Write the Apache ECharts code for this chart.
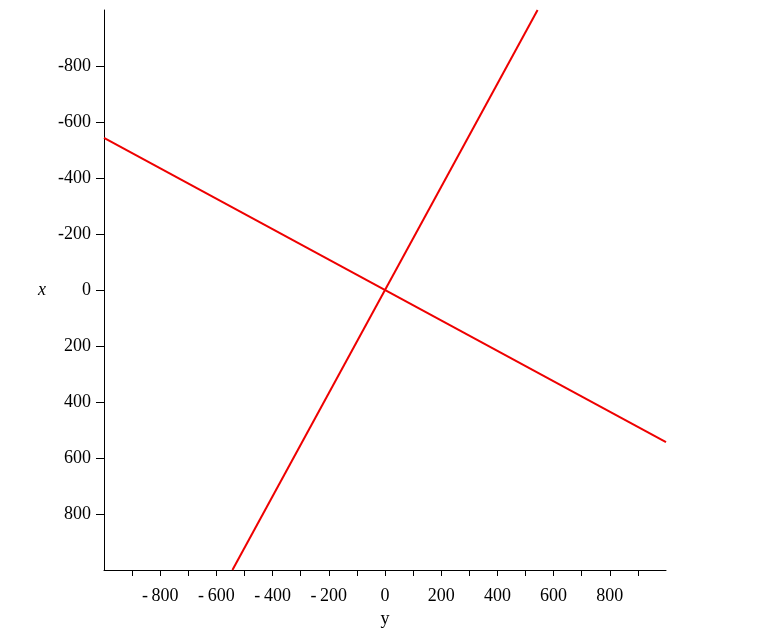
<!DOCTYPE html>
<html>
<head>
<meta charset="utf-8">
<script src="https://cdn.jsdelivr.net/npm/echarts@6/dist/echarts.min.js"></script>
<style>
html,body{margin:0;padding:0;background:#fff;}
#chart{width:772px;height:633px;}
</style>
</head>
<body>
<div id="chart"></div>
<script>
// Line 1 (horizontal value y, vertical value x)
const line1Y = [-1000, 1000];
const line1X = [-543, 543];
// Line 2
const line2Y = [-543, 543];
const line2X = [1000, -1000];
// Tick labels
const hLabelValues = [-800, -600, -400, -200, 0, 200, 400, 600, 800];
const hTickValues = [-900, -800, -700, -600, -500, -400, -300, -200, -100, 0, 100, 200, 300, 400, 500, 600, 700, 800, 900];
const vLabelValues = [-800, -600, -400, -200, 0, 200, 400, 600, 800];
const vTickValues = [-800, -600, -400, -200, 0, 200, 400, 600, 800];

const font = "'Liberation Serif','DejaVu Serif',serif";
const chart = echarts.init(document.getElementById('chart'));
chart.setOption({
  animation: false,
  backgroundColor: '#fff',
  grid: {left: 104, right: 106, top: 10, bottom: 60, containLabel: false},
  xAxis: {
    type: 'value', min: -1000, max: 1000, interval: 100,
    name: 'y', nameLocation: 'middle', nameGap: 40,
    nameTextStyle: {fontFamily: font, fontSize: 18, color: '#000'},
    axisLine: {show: true, onZero: false, lineStyle: {color: '#000', width: 1}},
    axisTick: {show: true, length: 6, customValues: hTickValues, lineStyle: {color: '#000'}},
    axisLabel: {show: true, customValues: hLabelValues, margin: 17, fontFamily: font, fontSize: 18, color: '#000',
      formatter: v => v < 0 ? '-\u2009' + Math.abs(v) : String(v)},
    splitLine: {show: false}
  },
  yAxis: {
    type: 'value', min: -1000, max: 1000, interval: 200, inverse: true,
    name: 'x', nameLocation: 'middle', nameGap: 58, nameRotate: 0,
    nameTextStyle: {fontFamily: font, fontSize: 18, fontStyle: 'italic', color: '#000'},
    axisLine: {show: true, onZero: false, lineStyle: {color: '#000', width: 1}},
    axisTick: {show: true, length: 8, customValues: vTickValues, lineStyle: {color: '#000'}},
    axisLabel: {show: true, customValues: vLabelValues, margin: 13, fontFamily: font, fontSize: 18, color: '#000'},
    splitLine: {show: false}
  },
  series: [
    {type: 'line', data: line1Y.map((y, i) => [y, line1X[i]]), showSymbol: false, lineStyle: {color: '#ee0000', width: 2}},
    {type: 'line', data: line2Y.map((y, i) => [y, line2X[i]]), showSymbol: false, lineStyle: {color: '#ee0000', width: 2}}
  ]
});
</script>
</body>
</html>
